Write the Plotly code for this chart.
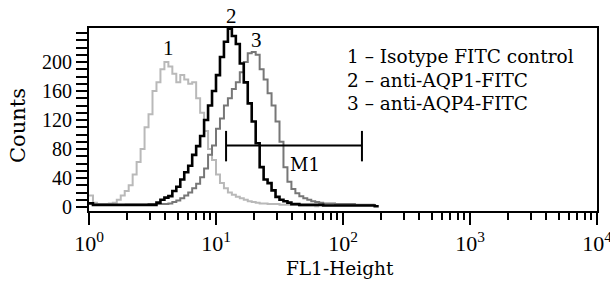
import plotly.graph_objects as go

# ---- data (histogram counts per log channel, 32 channels per decade) ----
channels_per_decade = 32

isotype_start = 0
isotype_counts = [16, 6, 4, 4, 4, 5, 6, 10, 16, 22, 30, 45, 62, 80, 110, 128, 160, 172, 190, 200,
                  194, 184, 172, 182, 176, 170, 172, 150, 130, 105, 80, 65, 45, 33, 26, 20, 17, 14,
                  12, 10, 8, 7, 6, 5, 5, 4, 4, 4, 3, 3, 3, 3, 3, 2, 2, 2, 2, 1]

aqp1_start = 0
aqp1_counts = [5, 3, 3, 3, 3, 3, 3, 3, 3, 3, 3, 3, 3, 3, 3, 3, 3, 6, 10, 13, 15, 22, 28, 38, 48,
               57, 72, 84, 98, 120, 140, 160, 182, 207, 228, 246, 236, 225, 198, 172, 143, 118,
               88, 55, 38, 33, 23, 14, 10, 8, 6, 4, 4, 3, 3, 3, 3, 3, 3, 2, 2, 2, 2, 2, 2, 2, 2,
               2, 2, 2, 2, 2, 1]

aqp4_start = 9
aqp4_counts = [3, 3, 3, 3, 3, 3, 4, 4, 4, 4, 4, 5, 7, 9, 12, 16, 20, 26, 32, 41, 53, 72, 85, 108,
               122, 140, 150, 163, 172, 186, 200, 212, 214, 210, 190, 176, 157, 140, 118, 90, 55,
               35, 25, 19, 15, 12, 10, 8, 7, 6, 5, 5, 5, 4, 4, 4, 4, 4, 3, 3, 3, 3, 3]

series_names = ["Isotype FITC control", "anti-AQP1-FITC", "anti-AQP4-FITC"]
series_ids = ["1", "2", "3"]

# M1 gate
gate_low, gate_high, gate_level = 12, 141, 85

x_tick_vals = [1, 10, 100, 1000, 10000]
x_tick_text = ["10<sup>0</sup>", "10<sup>1</sup>", "10<sup>2</sup>", "10<sup>3</sup>", "10<sup>4</sup>"]
y_label_vals = [0, 40, 80, 120, 160, 200]
y_minor_step = 10
y_max_tick = 240

SERIF = "Liberation Serif"
SERIF2 = "DejaVu Serif"

# plot-area geometry in pixels
W, H = 610, 282
L, R, T, B = 89, 13, 28, 71
PW, PH = W - L - R, H - T - B


def px(xp):
    return (xp - L) / PW


def py(yp):
    return (H - B - yp) / PH


def hist_xy(start, counts):
    edges = [10 ** ((start + i) / channels_per_decade) for i in range(len(counts) + 1)]
    return edges, counts + [counts[-1]]


fig = go.Figure()
styles = [
    (isotype_start, isotype_counts, "#b9b9b9", 2),
    (aqp4_start, aqp4_counts, "#777777", 2),
    (aqp1_start, aqp1_counts, "#000000", 2.6),
]
for start, counts, color, w in styles:
    x, y = hist_xy(start, counts)
    fig.add_trace(go.Scatter(x=x, y=y, mode="lines", line=dict(color=color, width=w, shape="hv"),
                             showlegend=False, hoverinfo="skip"))

# gate marker
fig.add_shape(type="line", x0=gate_low, x1=gate_high, y0=gate_level, y1=gate_level,
              line=dict(color="black", width=2))
for gx in (gate_low, gate_high):
    fig.add_shape(type="line", x0=gx, x1=gx, y0=gate_level - 22, y1=gate_level + 20,
                  line=dict(color="black", width=2))
fig.add_annotation(x=1.70, y=58, xref="x", yref="y", text="M1", showarrow=False,
                   font=dict(family=SERIF2, size=18, color="black"))

# curve numbers (pixel positions above each peak)
peak_label_px = [(168, 48), (231, 16), (256, 40)]
for sid, (lx, ly) in zip(series_ids, peak_label_px):
    fig.add_annotation(x=px(lx), y=py(ly), xref="paper", yref="paper", text=sid, showarrow=False,
                       xanchor="center", yanchor="middle",
                       font=dict(family=SERIF, size=21, color="black"))

# legend text, one line each
legend_y = [57, 80, 103]
for sid, name, ly in zip(series_ids, series_names, legend_y):
    fig.add_annotation(x=px(345), y=py(ly), xref="paper", yref="paper",
                       text=f"{sid} – {name}", showarrow=False,
                       xanchor="left", yanchor="middle", align="left",
                       font=dict(family=SERIF2, size=18.5, color="black"))

# axis titles
fig.add_annotation(x=px(340), y=py(268), xref="paper", yref="paper", text="FL1-Height",
                   showarrow=False, xanchor="center", yanchor="middle",
                   font=dict(family=SERIF2, size=18.5, color="black"))
fig.add_annotation(x=px(18), y=py(126), xref="paper", yref="paper", text="Counts",
                   showarrow=False, xanchor="center", yanchor="middle", textangle=-90,
                   font=dict(family=SERIF2, size=21, color="black"))

y_tick_vals = list(range(0, y_max_tick + 1, y_minor_step))
y_tick_text = [str(v) if v in y_label_vals else "" for v in y_tick_vals]
x_minor_vals = [m * 10 ** d for d in range(4) for m in range(2, 10)]

fig.update_layout(
    width=W, height=H,
    margin=dict(l=L, r=R, t=T, b=B),
    paper_bgcolor="white", plot_bgcolor="white",
    font=dict(family=SERIF, size=19, color="black"),
    xaxis=dict(type="log", range=[0, 4], tickvals=x_tick_vals, ticktext=x_tick_text,
               ticks="outside", ticklen=12, tickwidth=2, tickcolor="black",
               minor=dict(tickvals=x_minor_vals, ticks="outside", ticklen=7, tickwidth=2,
                          tickcolor="black", showgrid=False),
               showline=True, linecolor="black", linewidth=2, mirror=True, showgrid=False,
               zeroline=False, automargin=False, ticklabeloverflow="allow",
               tickfont=dict(family=SERIF, size=22)),
    yaxis=dict(range=[-5.5, 247], tickvals=y_tick_vals, ticktext=y_tick_text,
               ticks="outside", ticklen=11, tickwidth=2, tickcolor="black",
               showline=True, linecolor="black", linewidth=2, mirror=True, showgrid=False,
               zeroline=False, automargin=False, ticklabeloverflow="allow",
               tickfont=dict(family=SERIF, size=20)),
)

fig.write_html("out.html", config={"displayModeBar": False},
               post_script="document.body.style.margin='0px';document.body.style.overflow='hidden';")
